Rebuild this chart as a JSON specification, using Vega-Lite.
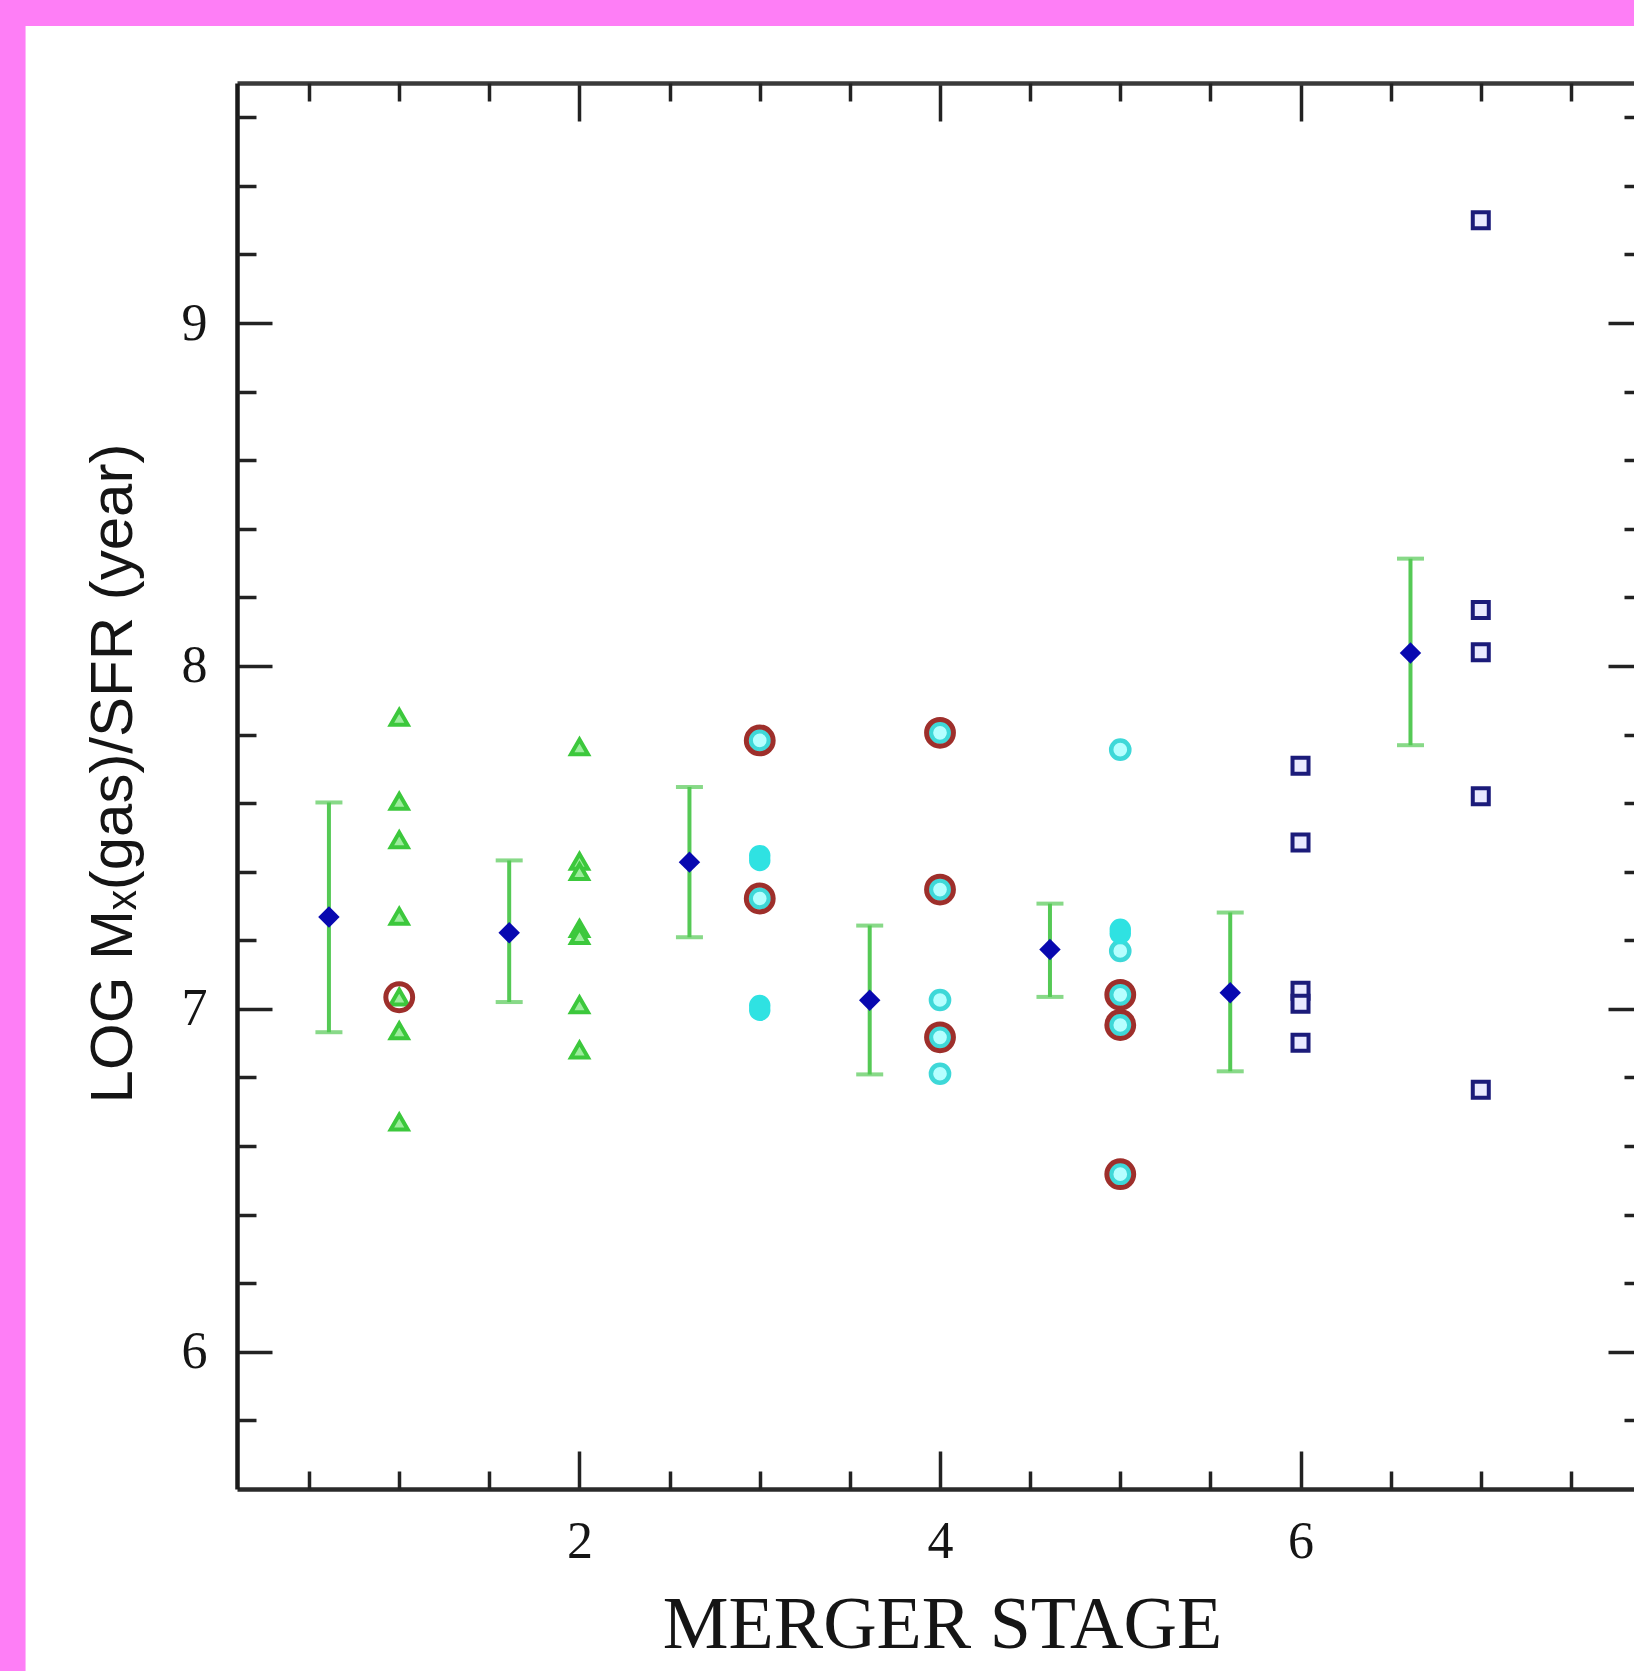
{
  "$schema": "https://vega.github.io/schema/vega-lite/v6.json",
  "width": 1397,
  "height": 1406,
  "autosize": {"type": "none"},
  "padding": {"left": 237, "top": 83, "right": 0, "bottom": 182},
  "background": "#fe7ef6",
  "config": {"view": {"stroke": null}},
  "datasets": {
    "means": [
      {"x": 0.61, "m": 7.268, "lo": 6.932, "hi": 7.602},
      {"x": 1.61, "m": 7.222, "lo": 7.020, "hi": 7.433},
      {"x": 2.61, "m": 7.428, "lo": 7.209, "hi": 7.647},
      {"x": 3.61, "m": 7.025, "lo": 6.809, "hi": 7.243},
      {"x": 4.61, "m": 7.173, "lo": 7.035, "hi": 7.307},
      {"x": 5.61, "m": 7.047, "lo": 6.818, "hi": 7.281},
      {"x": 6.61, "m": 8.038, "lo": 7.769, "hi": 8.313}
    ],
    "points": [
      {"stage": 1, "v": 7.85, "sym": "tri", "ring": false},
      {"stage": 1, "v": 7.605, "sym": "tri", "ring": false},
      {"stage": 1, "v": 7.493, "sym": "tri", "ring": false},
      {"stage": 1, "v": 7.27, "sym": "tri", "ring": false},
      {"stage": 1, "v": 7.034, "sym": "tri", "ring": true},
      {"stage": 1, "v": 6.936, "sym": "tri", "ring": false},
      {"stage": 1, "v": 6.67, "sym": "tri", "ring": false},
      {"stage": 2, "v": 7.764, "sym": "tri", "ring": false},
      {"stage": 2, "v": 7.43, "sym": "tri", "ring": false},
      {"stage": 2, "v": 7.40, "sym": "tri", "ring": false},
      {"stage": 2, "v": 7.234, "sym": "tri", "ring": false},
      {"stage": 2, "v": 7.214, "sym": "tri", "ring": false},
      {"stage": 2, "v": 7.012, "sym": "tri", "ring": false},
      {"stage": 2, "v": 6.88, "sym": "tri", "ring": false},
      {"stage": 3, "v": 7.783, "sym": "cyan", "ring": true},
      {"stage": 3, "v": 7.447, "sym": "cyanf", "ring": false},
      {"stage": 3, "v": 7.433, "sym": "cyanf", "ring": false},
      {"stage": 3, "v": 7.322, "sym": "cyan", "ring": true},
      {"stage": 3, "v": 7.010, "sym": "cyanf", "ring": false},
      {"stage": 3, "v": 6.996, "sym": "cyanf", "ring": false},
      {"stage": 4, "v": 7.805, "sym": "cyan", "ring": true},
      {"stage": 4, "v": 7.348, "sym": "cyan", "ring": true},
      {"stage": 4, "v": 7.026, "sym": "cyan", "ring": false},
      {"stage": 4, "v": 6.917, "sym": "cyan", "ring": true},
      {"stage": 4, "v": 6.811, "sym": "cyan", "ring": false},
      {"stage": 5, "v": 7.756, "sym": "cyan", "ring": false},
      {"stage": 5, "v": 7.232, "sym": "cyanf", "ring": false},
      {"stage": 5, "v": 7.220, "sym": "cyanf", "ring": false},
      {"stage": 5, "v": 7.169, "sym": "cyan", "ring": false},
      {"stage": 5, "v": 7.041, "sym": "cyan", "ring": true},
      {"stage": 5, "v": 6.953, "sym": "cyan", "ring": true},
      {"stage": 5, "v": 6.518, "sym": "cyan", "ring": true},
      {"stage": 6, "v": 7.709, "sym": "sq", "ring": false},
      {"stage": 6, "v": 7.485, "sym": "sq", "ring": false},
      {"stage": 6, "v": 7.053, "sym": "sq", "ring": false},
      {"stage": 6, "v": 7.015, "sym": "sq", "ring": false},
      {"stage": 6, "v": 6.901, "sym": "sq", "ring": false},
      {"stage": 7, "v": 9.30, "sym": "sq", "ring": false},
      {"stage": 7, "v": 8.163, "sym": "sq", "ring": false},
      {"stage": 7, "v": 8.04, "sym": "sq", "ring": false},
      {"stage": 7, "v": 7.62, "sym": "sq", "ring": false},
      {"stage": 7, "v": 6.764, "sym": "sq", "ring": false}
    ]
  },
  "layer": [
    {
      "data": {"values": [{}]},
      "mark": {"type": "rect", "fill": "#ffffff", "strokeWidth": 0},
      "encoding": {
        "x": {"datum": -1.073, "type": "quantitative", "scale": {"domain": [0.1, 7.85], "nice": false, "zero": false},
          "axis": {"orient": "bottom", "values": [2, 4, 6], "format": "d", "ticks": false, "domain": false, "grid": false, "zindex": 1,
            "labelFont": "Liberation Serif", "labelFontSize": 52, "labelColor": "#151515", "labelPadding": 27, "labelOverlap": false, "labelFlush": false,
            "title": "MERGER STAGE", "titleFont": "Liberation Serif", "titleFontSize": 74, "titleFontWeight": "normal", "titleColor": "#151515",
            "titleX": 705, "titleY": 158, "titleAlign": "center", "titleBaseline": "alphabetic"}},
        "x2": {"datum": 8.6},
        "y": {"datum": 9.866, "type": "quantitative", "scale": {"domain": [5.6, 9.7], "nice": false, "zero": false},
          "axis": {"orient": "left", "values": [6, 7, 8, 9], "format": "d", "ticks": false, "domain": false, "grid": false, "zindex": 1,
            "labelFont": "Liberation Serif", "labelFontSize": 52, "labelColor": "#151515", "labelPadding": 30, "labelOverlap": false, "labelFlush": false,
            "title": "LOG Mₓ(gas)/SFR (year)", "titleFont": "Liberation Sans", "titleFontSize": 60, "titleFontWeight": "normal", "titleColor": "#151515",
            "titleX": -106, "titleY": 690, "titleAngle": 270, "titleAlign": "center", "titleBaseline": "alphabetic"}},
        "y2": {"datum": 5.0}
      }
    },
    {
      "data": {"name": "means"},
      "mark": {"type": "rule", "color": "#55c955", "strokeWidth": 4},
      "encoding": {
        "x": {"field": "x", "type": "quantitative", "scale": {"domain": [0.1, 7.85], "nice": false, "zero": false},
          "axis": {"orient": "bottom", "values": [2, 4, 6], "labels": false, "title": null, "grid": false, "zindex": 1,
            "ticks": true, "tickSize": -38, "tickWidth": 3.5, "tickColor": "#222222",
            "domain": true, "domainColor": "#2a2a2a", "domainWidth": 4.5}},
        "y": {"field": "lo", "type": "quantitative", "scale": {"domain": [5.6, 9.7], "nice": false, "zero": false},
          "axis": {"orient": "left", "values": [6, 7, 8, 9], "labels": false, "title": null, "grid": false, "zindex": 1,
            "ticks": true, "tickSize": -35, "tickWidth": 3.5, "tickColor": "#222222",
            "domain": true, "domainColor": "#1a1a1a", "domainWidth": 4.5}},
        "y2": {"field": "hi"}
      }
    },
    {
      "data": {"name": "means"},
      "mark": {"type": "tick", "orient": "horizontal", "color": "#55c955", "thickness": 4, "size": 27},
      "encoding": {
        "x": {"field": "x", "type": "quantitative", "scale": {"domain": [0.1, 7.85], "nice": false, "zero": false},
          "axis": {"orient": "bottom", "values": [0.5, 1, 1.5, 2.5, 3, 3.5, 4.5, 5, 5.5, 6.5, 7, 7.5], "labels": false, "title": null, "grid": false, "zindex": 1,
            "ticks": true, "tickSize": -18, "tickWidth": 3.5, "tickColor": "#222222", "domain": false}},
        "y": {"field": "lo", "type": "quantitative", "scale": {"domain": [5.6, 9.7], "nice": false, "zero": false},
          "axis": {"orient": "left", "values": [5.8, 6.2, 6.4, 6.6, 6.8, 7.2, 7.4, 7.6, 7.8, 8.2, 8.4, 8.6, 8.8, 9.2, 9.4, 9.6], "labels": false, "title": null, "grid": false, "zindex": 1,
            "ticks": true, "tickSize": -19, "tickWidth": 3.5, "tickColor": "#222222", "domain": false}}
      }
    },
    {
      "data": {"name": "means"},
      "mark": {"type": "tick", "orient": "horizontal", "color": "#55c955", "thickness": 4, "size": 27},
      "encoding": {
        "x": {"field": "x", "type": "quantitative", "scale": {"domain": [0.1, 7.85], "nice": false, "zero": false},
          "axis": {"orient": "top", "values": [2, 4, 6], "labels": false, "title": null, "grid": false, "zindex": 1,
            "ticks": true, "tickSize": -38, "tickWidth": 3.5, "tickColor": "#222222",
            "domain": true, "domainColor": "#3a3a3a", "domainWidth": 4.5}},
        "y": {"field": "hi", "type": "quantitative", "scale": {"domain": [5.6, 9.7], "nice": false, "zero": false},
          "axis": {"orient": "right", "values": [6, 7, 8, 9], "labels": false, "title": null, "grid": false, "zindex": 1,
            "ticks": true, "tickSize": -26, "tickWidth": 3.5, "tickColor": "#222222", "domain": false}}
      }
    },
    {
      "data": {"name": "means"},
      "mark": {"type": "point", "shape": "diamond", "filled": true, "color": "#0808b0", "size": 460, "opacity": 1},
      "encoding": {
        "x": {"field": "x", "type": "quantitative", "scale": {"domain": [0.1, 7.85], "nice": false, "zero": false},
          "axis": {"orient": "top", "values": [0.5, 1, 1.5, 2.5, 3, 3.5, 4.5, 5, 5.5, 6.5, 7, 7.5], "labels": false, "title": null, "grid": false, "zindex": 1,
            "ticks": true, "tickSize": -18, "tickWidth": 3.5, "tickColor": "#222222", "domain": false}},
        "y": {"field": "m", "type": "quantitative", "scale": {"domain": [5.6, 9.7], "nice": false, "zero": false},
          "axis": {"orient": "right", "values": [5.8, 6.2, 6.4, 6.6, 6.8, 7.2, 7.4, 7.6, 7.8, 8.2, 8.4, 8.6, 8.8, 9.2, 9.4, 9.6], "labels": false, "title": null, "grid": false, "zindex": 1,
            "ticks": true, "tickSize": -10, "tickWidth": 3.5, "tickColor": "#222222", "domain": false}}
      }
    },
    {
      "data": {"name": "points"},
      "transform": [{"filter": "datum.sym === 'tri'"}],
      "mark": {"type": "point", "shape": "triangle-up", "filled": false, "stroke": "#3cc83c", "fill": "#9ced9c", "fillOpacity": 1, "strokeWidth": 4, "size": 290, "opacity": 1},
      "encoding": {
        "x": {"field": "stage", "type": "quantitative", "scale": {"domain": [0.1, 7.85], "nice": false, "zero": false}, "axis": null},
        "y": {"field": "v", "type": "quantitative", "scale": {"domain": [5.6, 9.7], "nice": false, "zero": false}, "axis": null}
      }
    },
    {
      "data": {"name": "points"},
      "transform": [{"filter": "datum.sym === 'cyan'"}],
      "mark": {"type": "point", "shape": "circle", "filled": false, "stroke": "#3ed8d8", "fill": "#b5ffff", "fillOpacity": 1, "strokeWidth": 4.5, "size": 330, "opacity": 1},
      "encoding": {
        "x": {"field": "stage", "type": "quantitative", "scale": {"domain": [0.1, 7.85], "nice": false, "zero": false}, "axis": null},
        "y": {"field": "v", "type": "quantitative", "scale": {"domain": [5.6, 9.7], "nice": false, "zero": false}, "axis": null}
      }
    },
    {
      "data": {"name": "points"},
      "transform": [{"filter": "datum.sym === 'cyanf'"}],
      "mark": {"type": "point", "shape": "circle", "filled": true, "color": "#2fe2e2", "size": 460, "opacity": 1},
      "encoding": {
        "x": {"field": "stage", "type": "quantitative", "scale": {"domain": [0.1, 7.85], "nice": false, "zero": false}, "axis": null},
        "y": {"field": "v", "type": "quantitative", "scale": {"domain": [5.6, 9.7], "nice": false, "zero": false}, "axis": null}
      }
    },
    {
      "data": {"name": "points"},
      "transform": [{"filter": "datum.ring"}],
      "mark": {"type": "point", "shape": "circle", "filled": false, "stroke": "#9e2f2b", "strokeWidth": 5, "size": 720, "opacity": 1},
      "encoding": {
        "x": {"field": "stage", "type": "quantitative", "scale": {"domain": [0.1, 7.85], "nice": false, "zero": false}, "axis": null},
        "y": {"field": "v", "type": "quantitative", "scale": {"domain": [5.6, 9.7], "nice": false, "zero": false}, "axis": null}
      }
    },
    {
      "data": {"name": "points"},
      "transform": [{"filter": "datum.sym === 'sq'"}],
      "mark": {"type": "point", "shape": "square", "filled": false, "stroke": "#1b1b7a", "fill": "#eaeaff", "fillOpacity": 1, "strokeWidth": 4, "size": 256, "opacity": 1},
      "encoding": {
        "x": {"field": "stage", "type": "quantitative", "scale": {"domain": [0.1, 7.85], "nice": false, "zero": false}, "axis": null},
        "y": {"field": "v", "type": "quantitative", "scale": {"domain": [5.6, 9.7], "nice": false, "zero": false}, "axis": null}
      }
    }
  ],
  "resolve": {"axis": {"x": "independent", "y": "independent"}}
}
